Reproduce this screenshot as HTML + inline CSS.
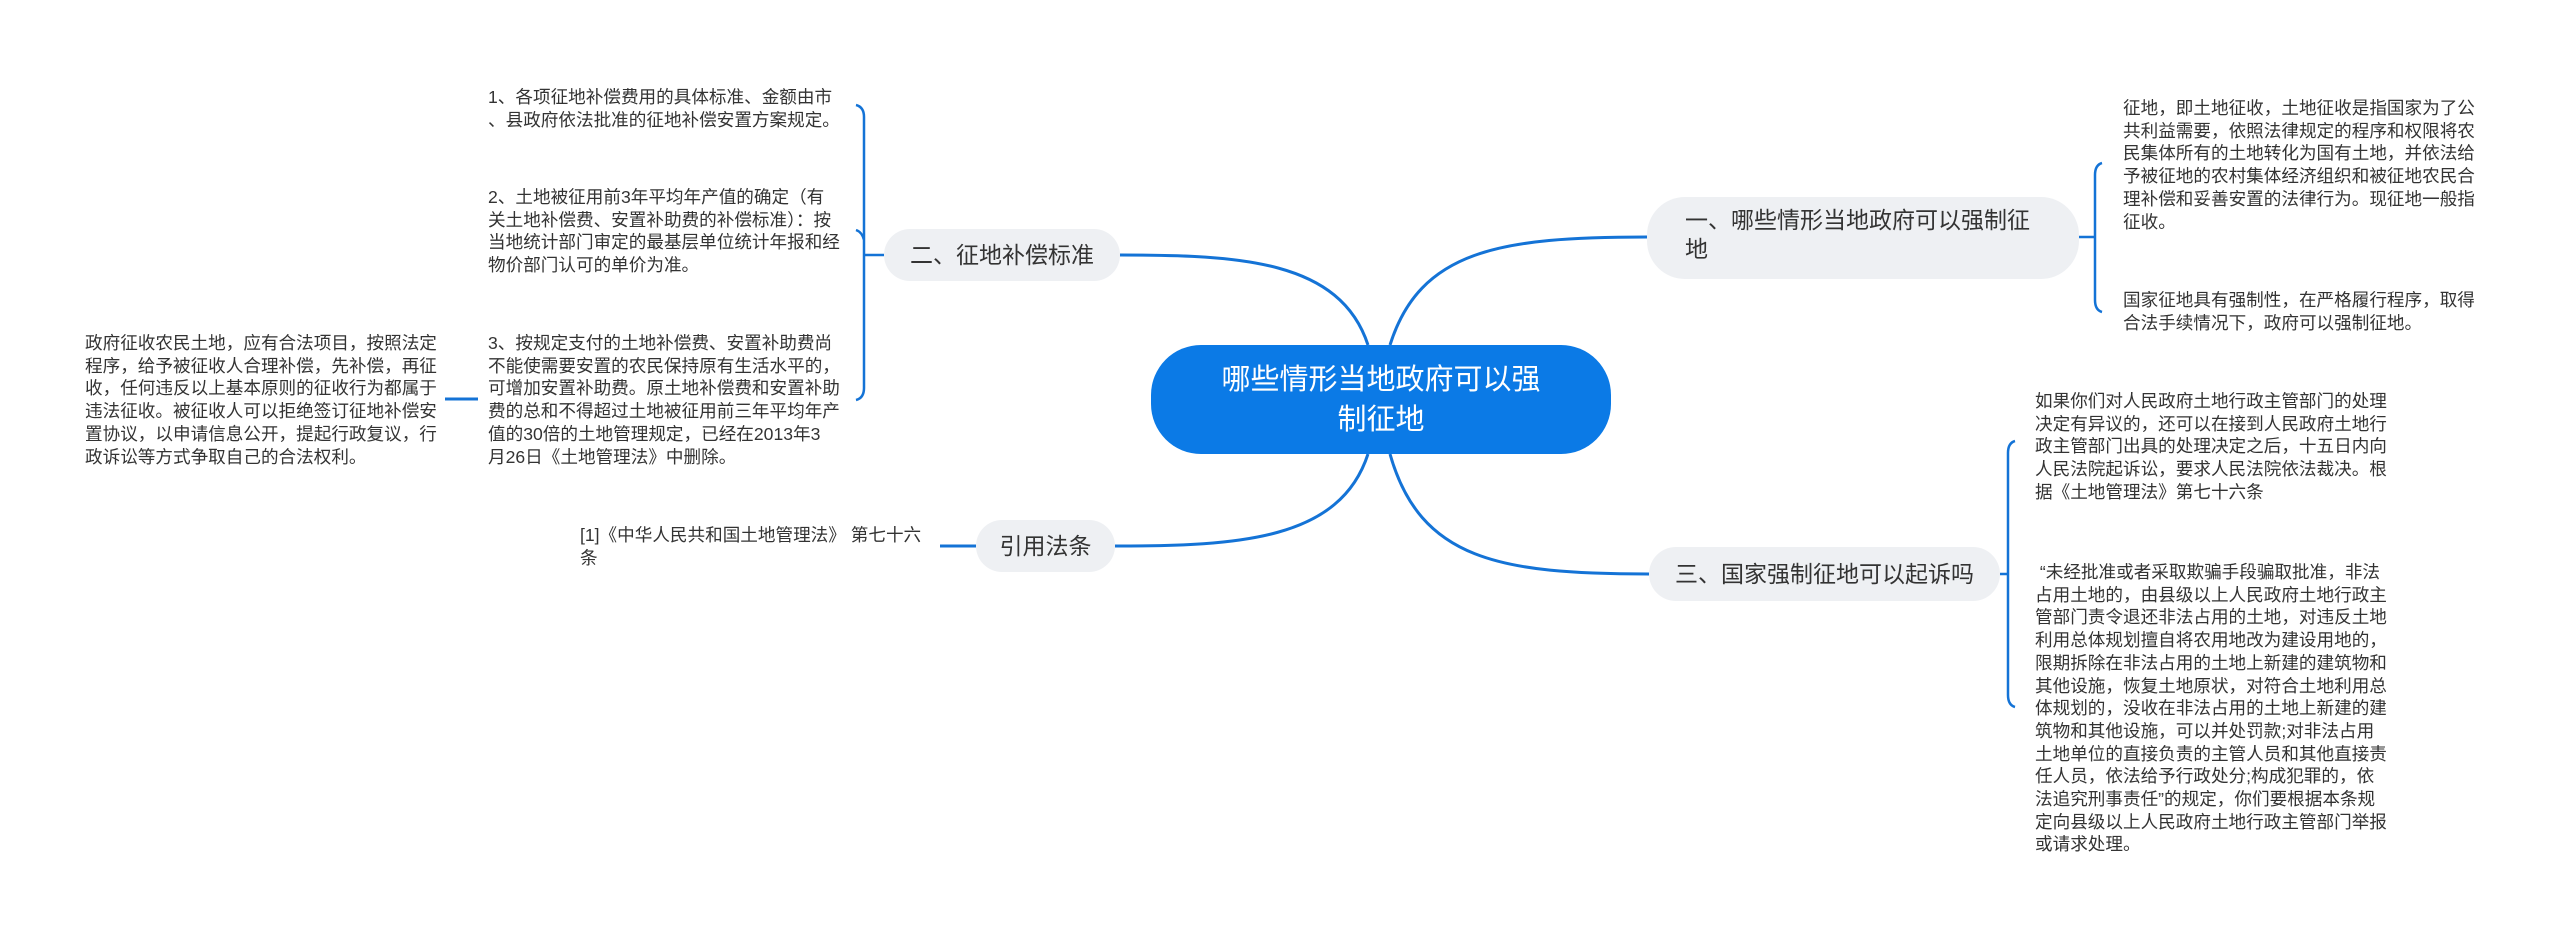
<!DOCTYPE html>
<html><head><meta charset="utf-8">
<style>
body{margin:0;width:2560px;height:937px;background:#fff;position:relative;overflow:hidden;font-family:"Liberation Sans","Noto Sans CJK SC",sans-serif;}
.t{position:absolute;font-size:17.6px;line-height:22.7px;color:#333;white-space:nowrap;}
.n{position:absolute;background:#eef0f3;color:#333;font-size:23px;box-sizing:border-box;}
svg{position:absolute;left:0;top:0}
</style></head><body>
<svg width="2560" height="937" fill="none" stroke="#1473d6" stroke-width="3">
<path d="M1390,345 C1420,250 1500,237 1647,237"/>
<path d="M1368,345 C1340,260 1240,255 1120,255"/>
<path d="M1390,454 C1420,560 1500,574 1649,574"/>
<path d="M1368,454 C1340,540 1240,546 1115,546"/>
<path d="M2079,237 H2095 M2095,237 V300 Q2095,310 2102,312 M2095,237 V175 Q2095,165 2102,163" stroke-width="2.5"/>
<path d="M2000,574 H2008 M2008,574 V695 Q2008,705 2015,707 M2008,574 V453 Q2008,443 2015,441" stroke-width="2.5"/>
<path d="M884,255 H864 M864,255 V388 Q864,398 856,400 M864,255 V117 Q864,107 856,105 M864,240 Q862,232 856,230" stroke-width="2.5"/>
<path d="M445,399 H478" stroke-width="3"/>
<path d="M976,546 H940" stroke-width="3"/>
</svg>
<div style="position:absolute;left:1151px;top:345px;width:460px;height:109px;border-radius:50px;background:#0b7ae6;color:#fff;font-size:29px;line-height:40px;text-align:center;padding-top:15px;box-sizing:border-box;">哪些情形当地政府可以强<br>制征地</div>
<div class="n" style="left:1647px;top:197px;width:432px;height:82px;border-radius:38px;padding:9px 0 0 38px;line-height:29px;">一、哪些情形当地政府可以强制征<br>地</div>
<div class="n" style="left:1649px;top:547px;width:351px;height:54px;border-radius:27px;line-height:54px;text-align:center;">三、国家强制征地可以起诉吗</div>
<div class="n" style="left:884px;top:229px;width:236px;height:52px;border-radius:26px;line-height:52px;text-align:center;">二、征地补偿标准</div>
<div class="n" style="left:976px;top:520px;width:139px;height:52px;border-radius:26px;line-height:52px;text-align:center;">引用法条</div>

<div class="t" style="left:488px;top:86px;">1、各项征地补偿费用的具体标准、金额由市<br>、县政府依法批准的征地补偿安置方案规定。</div>
<div class="t" style="left:488px;top:186px;">2、土地被征用前3年平均年产值的确定（有<br>关土地补偿费、安置补助费的补偿标准）：按<br>当地统计部门审定的最基层单位统计年报和经<br>物价部门认可的单价为准。</div>
<div class="t" style="left:488px;top:332px;">3、按规定支付的土地补偿费、安置补助费尚<br>不能使需要安置的农民保持原有生活水平的，<br>可增加安置补助费。原土地补偿费和安置补助<br>费的总和不得超过土地被征用前三年平均年产<br>值的30倍的土地管理规定，已经在2013年3<br>月26日《土地管理法》中删除。</div>
<div class="t" style="left:85px;top:332px;">政府征收农民土地，应有合法项目，按照法定<br>程序，给予被征收人合理补偿，先补偿，再征<br>收，任何违反以上基本原则的征收行为都属于<br>违法征收。被征收人可以拒绝签订征地补偿安<br>置协议，以申请信息公开，提起行政复议，行<br>政诉讼等方式争取自己的合法权利。</div>
<div class="t" style="left:580px;top:524px;">[1]《中华人民共和国土地管理法》 第七十六<br>条</div>
<div class="t" style="left:2123px;top:97px;">征地，即土地征收，土地征收是指国家为了公<br>共利益需要，依照法律规定的程序和权限将农<br>民集体所有的土地转化为国有土地，并依法给<br>予被征地的农村集体经济组织和被征地农民合<br>理补偿和妥善安置的法律行为。现征地一般指<br>征收。</div>
<div class="t" style="left:2123px;top:289px;">国家征地具有强制性，在严格履行程序，取得<br>合法手续情况下，政府可以强制征地。</div>
<div class="t" style="left:2035px;top:390px;">如果你们对人民政府土地行政主管部门的处理<br>决定有异议的，还可以在接到人民政府土地行<br>政主管部门出具的处理决定之后，十五日内向<br>人民法院起诉讼，要求人民法院依法裁决。根<br>据《土地管理法》第七十六条</div>
<div class="t" style="left:2035px;top:561px;">&nbsp;“未经批准或者采取欺骗手段骗取批准，非法<br>占用土地的，由县级以上人民政府土地行政主<br>管部门责令退还非法占用的土地，对违反土地<br>利用总体规划擅自将农用地改为建设用地的，<br>限期拆除在非法占用的土地上新建的建筑物和<br>其他设施，恢复土地原状，对符合土地利用总<br>体规划的，没收在非法占用的土地上新建的建<br>筑物和其他设施，可以并处罚款;对非法占用<br>土地单位的直接负责的主管人员和其他直接责<br>任人员，依法给予行政处分;构成犯罪的，依<br>法追究刑事责任”的规定，你们要根据本条规<br>定向县级以上人民政府土地行政主管部门举报<br>或请求处理。</div>
</body></html>
